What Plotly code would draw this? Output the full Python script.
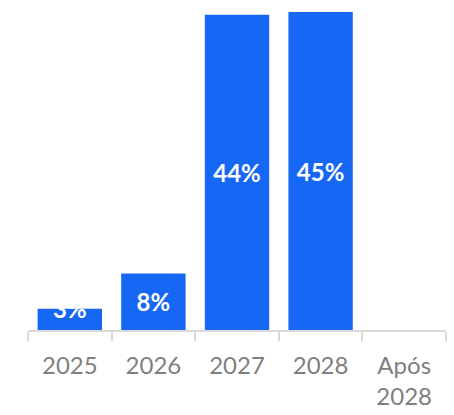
import plotly.graph_objects as go

categories = ["2025", "2026", "2027", "2028", "Após<br>2028"]
values = [3.0, 8.0, 44.6, 45.0, 0.0]
labels = ["3%", "8%", "44%", "45%", ""]

BAR = "#1767F5"
FONT = "Lato, 'Open Sans', sans-serif"

fig = go.Figure()
fig.add_trace(go.Bar(
    x=categories, y=values,
    marker=dict(color=BAR, line=dict(width=0)),
    text=["" if i == 0 else t for i, t in enumerate(labels)],
    textposition="inside", insidetextanchor="middle",
    constraintext="none", textangle=0,
    insidetextfont=dict(family=FONT, size=24, color="white", weight="bold"),
    hoverinfo="skip",
))
# first label sits across the top edge of its short bar (category index 0)
fig.add_annotation(x=categories.index(categories[0]), y=values[0], text=labels[0],
                   showarrow=False, yanchor="middle", xanchor="center",
                   font=dict(family=FONT, size=24, color="white", weight="bold"))

fig.update_layout(
    width=454, height=415,
    margin=dict(l=28, r=8, t=0, b=85),
    paper_bgcolor="white", plot_bgcolor="white",
    bargap=0.23, showlegend=False,
    xaxis=dict(type="category", range=[-0.5, len(categories) - 0.5],
               showline=True, linecolor="#d9d9d9", linewidth=1.5,
               ticks="outside", tickson="boundaries", ticklen=9,
               tickcolor="#d9d9d9", tickwidth=1.5, tickangle=0,
               ticklabelstandoff=13,
               tickfont=dict(family=FONT, size=24, color="#7f7f7f"),
               showgrid=False, zeroline=False, fixedrange=True),
    yaxis=dict(visible=False, range=[0, 46.7], showgrid=False,
               zeroline=False, fixedrange=True),
)
fig.write_html("out.html")
